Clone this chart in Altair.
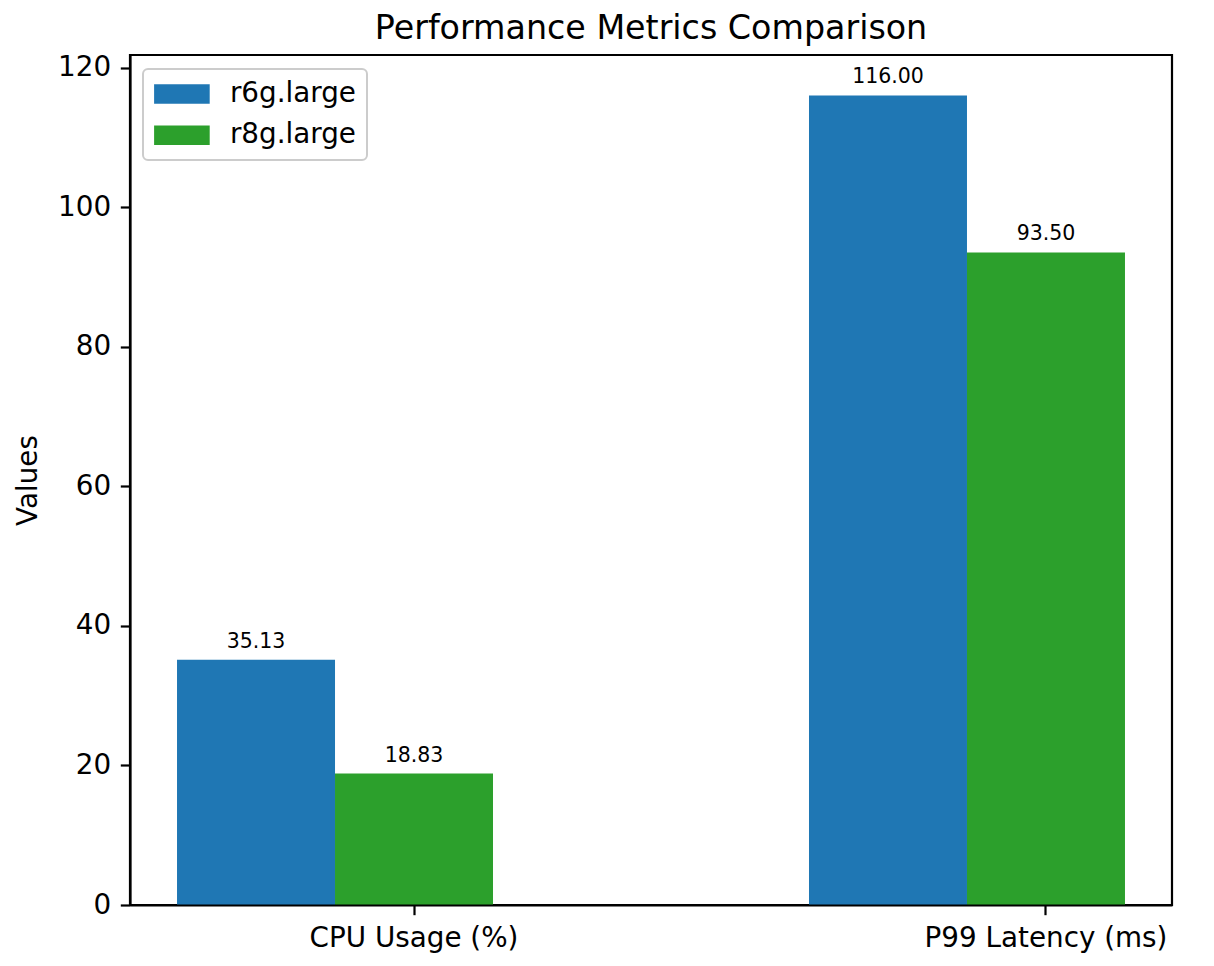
import altair as alt
import pandas as pd

categories = ["CPU Usage (%)", "P99 Latency (ms)"]
series = ["r6g.large", "r8g.large"]
r6g_values = [35.13, 116.00]
r8g_values = [18.83, 93.50]
colors = ["#1f77b4", "#2ca02c"]
y_ticks = [0, 20, 40, 60, 80, 100, 120]

rows = []
for s, vals in zip(series, [r6g_values, r8g_values]):
    for c, v in zip(categories, vals):
        rows.append({"category": c, "series": s, "value": v, "label": f"{v:.2f}"})
df = pd.DataFrame(rows)

FONT = "DejaVu Sans"
FS = 27.8

x_scale = alt.Scale(domain=categories, paddingInner=0.5, paddingOuter=0.0744)
xoff_scale = alt.Scale(domain=series, paddingInner=0, paddingOuter=0)
y_scale = alt.Scale(domain=[0, 121.8], nice=False, zero=True)

x_axis = alt.Axis(
    title=None, labelAngle=0, bandPosition=0.75, labelOffset=79, labelFontSize=FS,
    labelFont=FONT, labelColor="black", tickSize=9.7, tickWidth=2.2, tickColor="black",
    labelPadding=9.7, domainColor="black", domainWidth=2.2, grid=False, zindex=1,
    labelBaseline="top", labelLimit=1000,
)
y_axis = alt.Axis(
    values=y_ticks, title="Values", titleFontSize=FS, titleFont=FONT,
    titleFontWeight="normal", titleColor="black", titlePadding=15,
    labelFontSize=FS, labelFont=FONT, labelColor="black", tickSize=9.7,
    tickWidth=2.2, tickColor="black", labelPadding=9.7, domainColor="black",
    domainWidth=2.2, grid=False, zindex=1, labelOverlap=False,
)

base = alt.Chart(df).encode(
    x=alt.X("category:N", scale=x_scale, sort=categories, axis=x_axis),
    xOffset=alt.XOffset("series:N", scale=xoff_scale, sort=series),
    y=alt.Y("value:Q", scale=y_scale, axis=y_axis),
)

legend = alt.Legend(
    orient="none", legendX=13, legendY=14, title=None,
    symbolType="M-2,-0.7L2,-0.7L2,0.7L-2,0.7Z", symbolSize=FS * FS,
    symbolStrokeWidth=0, symbolOpacity=1, symbolOffset=13.9, labelOffset=34,
    labelFontSize=FS, labelFont=FONT, labelColor="black",
    padding=11, rowPadding=13.2, fillColor="rgba(255,255,255,0.8)",
    strokeColor="#cccccc", cornerRadius=5,
)

bars = base.mark_bar().encode(
    color=alt.Color("series:N", scale=alt.Scale(domain=series, range=colors), legend=legend)
)
labels = base.mark_text(baseline="alphabetic", dy=-12, fontSize=20.5, font=FONT, color="black").encode(
    text="label:N"
)

chart = (
    alt.layer(bars, labels)
    .properties(
        width=1042,
        height=850,
        autosize=alt.AutoSizeParams(type="none"),
        padding={"left": 122, "top": 47, "right": 34, "bottom": 53},
        title=alt.Title(
            "Performance Metrics Comparison", fontSize=33.3, font=FONT,
            fontWeight="normal", anchor="middle", baseline="alphabetic",
            offset=16.7, dy=35, frame="group", color="black", limit=2000,
        ),
    )
    .configure_view(stroke="black", strokeWidth=2.2)
    .configure_legend(strokeWidth=2)
)

chart.save("out.html", embed_options={"renderer": "svg", "actions": False})
